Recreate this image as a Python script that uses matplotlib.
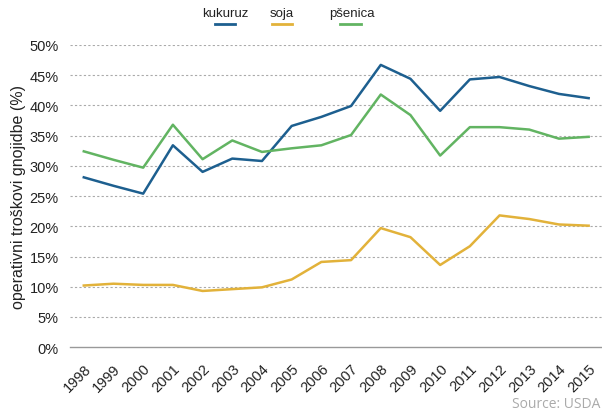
import matplotlib.pyplot as plt
from matplotlib.lines import Line2D

plt.rcParams["font.family"] = ["Liberation Sans", "DejaVu Sans"]

years = list(range(1998, 2016))
kukuruz = [28.1, 26.7, 25.4, 33.4, 29.0, 31.2, 30.8, 36.6, 38.1, 39.9,
           46.7, 44.4, 39.1, 44.3, 44.7, 43.2, 41.9, 41.2]
soja = [10.2, 10.5, 10.3, 10.3, 9.3, 9.6, 9.9, 11.2, 14.1, 14.4,
        19.7, 18.2, 13.6, 16.7, 21.8, 21.2, 20.3, 20.1]
psenica = [32.4, 31.0, 29.7, 36.8, 31.1, 34.2, 32.3, 32.9, 33.4, 35.1,
           41.8, 38.4, 31.7, 36.4, 36.4, 36.0, 34.5, 34.8]
yticks = [0, 5, 10, 15, 20, 25, 30, 35, 40, 45, 50]

c_blue = "#1d5f8f"
c_yellow = "#e2b23a"
c_green = "#62b462"

fig = plt.figure(figsize=(6.02, 4.14), dpi=100)
ax = fig.add_axes([0.116, 0.159, 0.884, 0.730])

ax.plot(years, kukuruz, color=c_blue, lw=1.8)
ax.plot(years, soja, color=c_yellow, lw=1.8)
ax.plot(years, psenica, color=c_green, lw=1.8)

ax.set_xlim(1997.53, 2015.45)
ax.set_ylim(0, 50)
ax.set_yticks(yticks)
ax.set_yticklabels([f"{v}%" for v in yticks], fontsize=10.5, color="#222222")
ax.set_xticks(years)
ax.set_xticklabels([str(y) for y in years], rotation=45, ha="right",
                   rotation_mode="anchor", fontsize=10.5, color="#222222")
ax.tick_params(length=0)
ax.tick_params(axis="y", pad=8)
ax.tick_params(axis="x", pad=10)

for v in yticks[1:]:
    ax.axhline(v, color="#aaaaaa", lw=0.8, ls=(0, (2, 2)), zorder=0)
for s in ["top", "right", "left"]:
    ax.spines[s].set_visible(False)
ax.spines["bottom"].set_color("#999999")
ax.spines["bottom"].set_linewidth(1.0)

ax.set_ylabel("operativni troškovi gnojidbe (%)", fontsize=11.5, color="#222222")
ax.yaxis.set_label_coords(-0.082, 0.5)

# legend: label above a short line
for label, color, xc, xl in [("kukuruz", c_blue, 0.375, 0.374),
                             ("soja", c_yellow, 0.468, 0.468),
                             ("pšenica", c_green, 0.584, 0.582)]:
    fig.text(xc, 0.959, label, ha="center", va="baseline", fontsize=9.5, color="#222222")
    fig.add_artist(Line2D([xl - 0.017, xl + 0.017], [0.939, 0.939],
                          color=color, lw=2, transform=fig.transFigure))

fig.text(0.998, 0.005, "Source: USDA", ha="right", va="bottom",
         fontsize=10, color="#aaaaaa", family="Open Sans")

fig.savefig("out.png", dpi=100)
